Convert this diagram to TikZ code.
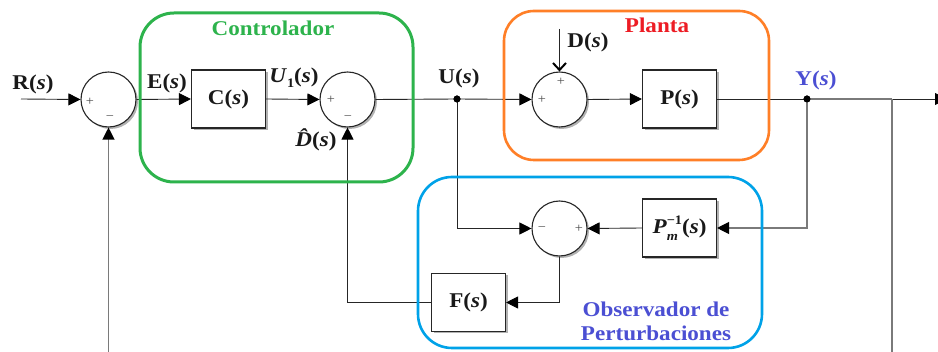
\documentclass[tikz,border=0pt]{standalone}
\usepackage{fontspec}
\setmainfont{Liberation Serif}[FakeStretch=1.1]
\usetikzlibrary{arrows.meta,shadows}
\definecolor{cgreen}{HTML}{2DB34C}
\definecolor{corange}{HTML}{FF7F27}
\definecolor{cblue}{HTML}{00A2E8}
\definecolor{cred}{HTML}{ED1C24}
\definecolor{cviolet}{HTML}{4B4FD3}
\definecolor{cline}{HTML}{7A7A7A}
\tikzset{
  blk/.style={draw=black!85, line width=1.1pt, fill=white, minimum width=74pt, minimum height=58pt, inner sep=0pt,
    drop shadow={shadow xshift=2pt, shadow yshift=-2pt, opacity=0.3, fill=black}},
  sumc/.style={circle, draw=black!85, line width=1.1pt, fill=white, minimum size=55pt, inner sep=0pt,
    drop shadow={shadow xshift=2pt, shadow yshift=-2pt, opacity=0.3, fill=black}},
  arr/.style={-{Triangle[length=12pt,width=12pt,color=black]}},
  wire/.style={line width=0.9pt, black!85},
  gwire/.style={line width=1.2pt, cline},
  lbl/.style={font=\fontsize{21}{23}\selectfont\bfseries, text=black!90, inner sep=0pt},
  sgn/.style={font=\fontsize{13}{13}\selectfont, text=black!70, inner sep=0pt},
  frame/.style={line width=3pt, rounded corners=34pt},
  junc/.style={circle, fill=black, minimum size=7pt, inner sep=0pt}
}
\begin{document}
\begin{tikzpicture}[x=1pt,y=-1pt]
\clip (0,0) rectangle (938,352);
\fill[white] (0,0) rectangle (938,352);
% blocks
\node[sumc] (s1) at (108.5,99.5) {};
\node[blk]  (C)  at (228.5,99) {};
\node[sumc] (s2) at (347.5,99.5) {};
\node[sumc] (s4) at (559.5,99.5) {};
\node[blk]  (P)  at (679.5,99) {};
\node[sumc] (s3) at (559.5,228.5) {};
\node[blk]  (Pm) at (679.5,228) {};
\node[blk]  (F)  at (468.5,302.5) {};
% coordinates
\coordinate (rin) at (21,99);
\node[junc] (U) at (457,99) {};
\node[junc] (Y) at (807,99) {};
\coordinate (rend) at (947,99);
\coordinate (fbt) at (892,99);
\coordinate (fbb) at (892,360);
\coordinate (fbl) at (108.5,360);
\coordinate (din) at (559.5,29);
% wires
\draw[wire,arr] (rin) -- (s1.west);
\draw[wire,arr] (s1.east) -- (C.west);
\draw[wire,arr] (C.east) -- (s2.west);
\draw[wire] (s2.east) -- (U.center);
\draw[wire,arr] (U.center) -- (s4.west);
\draw[wire,arr] (s4.east) -- (P.west);
\draw[wire] (P.east) -- (Y.center);
\draw[gwire] (Y.center) -- (fbt);
\draw[wire,arr] (fbt) -- (rend);
\draw[gwire] (fbt) -- (fbb);
\draw[gwire,arr] (fbl) -- (s1.south);
\draw[gwire,arr] (Y.center) |- (Pm.east);
\draw[wire,arr] (Pm.west) -- (s3.east);
\draw[wire,arr] (U.center) |- (s3.west);
\draw[wire,arr] (s3.south) |- (F.east);
\draw[wire,arr] (F.west) -| (s2.south);
\draw[wire,-{Straight Barb[length=7pt,width=13pt,line width=2pt,color=black]}] (din) -- (s4.north);
\node[junc] at (U) {};
\node[junc] at (Y) {};
% frames
\draw[frame, cgreen] (140,13) rectangle (413,182);
\draw[frame, corange, line width=2.6pt, rounded corners=30pt] (504,11) rectangle (769,160);
\draw[frame, cblue, line width=2.6pt] (418,177) rectangle (762,348);
% block labels
\node[lbl] at (C) {C(\textit{s})};
\node[lbl] at (P) {P(\textit{s})};
\node[lbl] at (F) {F(\textit{s})};
\node[lbl] at (Pm) {\textit{P}\rlap{\raisebox{-0.34em}{\fontsize{13}{13}\selectfont\textit{m}}}\raisebox{0.44em}{\fontsize{13}{13}\selectfont −1}(\textit{s})};
% signal labels
\node[lbl] at (33,84) {R(\textit{s})};
\node[lbl] at (167,83) {E(\textit{s})};
\node[lbl] at (294,78) {\textit{U}\raisebox{-0.25em}{\fontsize{13}{13}\selectfont 1}(\textit{s})};
\node[lbl] at (316,140) {{\itshape\^D}(\textit{s})};
\node[lbl] at (459,78) {U(\textit{s})};
\node[lbl] at (588,42) {D(\textit{s})};
\node[lbl, text=cviolet] at (816,80) {Y(\textit{s})};
% titles
\node[lbl, text=cgreen] at (273,28) {Controlador};
\node[lbl, text=cred] at (657,25) {Planta};
\node[lbl, text=cviolet, align=center, font=\fontsize{21}{24}\selectfont\bfseries] at (656,321) {Observador de\\Perturbaciones};
% signs
\node[sgn] at (90,102) {+};
\node[sgn] at (110,118) {−};
\node[sgn] at (331,100) {+};
\node[sgn] at (348,118) {−};
\node[sgn] at (542,100) {+};
\node[sgn] at (561,82) {+};
\node[sgn] at (542,229) {−};
\node[sgn] at (579,229) {+};
\end{tikzpicture}
\end{document}
